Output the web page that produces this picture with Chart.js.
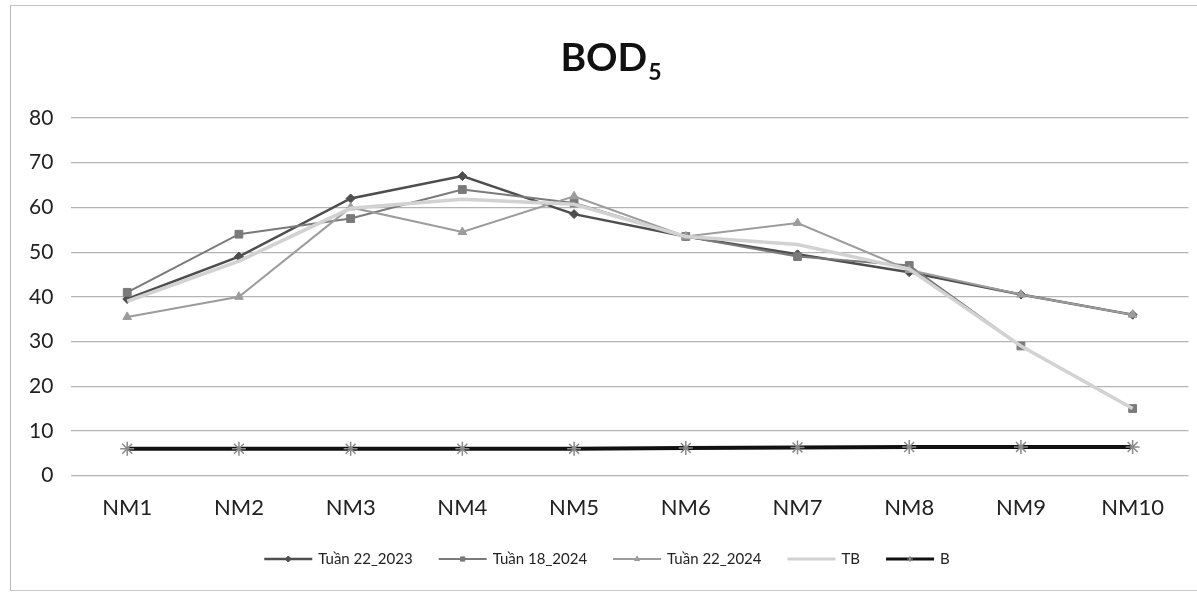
<!DOCTYPE html>
<html>
<head>
<meta charset="utf-8">
<title>BOD5</title>
<script src="https://cdn.jsdelivr.net/npm/chart.js@4.4.1/dist/chart.umd.min.js"></script>
<style>
  html, body { margin: 0; padding: 0; background: #ffffff; }
  #wrap { position: relative; width: 1197px; height: 595px; overflow: hidden; }
  #frame { position: absolute; left: 10px; top: 5px; width: 1200px; height: 584px;
           border-left: 1px solid #b8b8b8; border-top: 1px solid #c4c4c4; border-bottom: 1px solid #c8c8c8; }
  canvas { position: absolute; left: 0; top: 0; }
</style>
</head>
<body>
<div id="wrap">
  <div id="frame"></div>
  <canvas id="chart" width="1197" height="595"></canvas>
</div>
<script>
// Sampling points along the river
const stations = ['NM1', 'NM2', 'NM3', 'NM4', 'NM5', 'NM6', 'NM7', 'NM8', 'NM9', 'NM10'];

// BOD5 (mg/L) per sampling round
const week22_2023 = [39.5, 49, 62, 67, 58.5, 53.5, 49.5, 45.5, 40.5, 36];
const week18_2024 = [41, 54, 57.5, 64, 61, 53.5, 49, 47, 29, 15];
const week22_2024 = [35.5, 40, 60, 54.5, 62.5, 53.5, 56.5, 46, 40.5, 36];
const average     = [39, 48, 59.8, 61.8, 60.7, 53.5, 51.7, 46.2, 29, 15];
const limitB      = [6, 6, 6, 6, 6, 6.2, 6.3, 6.4, 6.4, 6.4];

// Y axis ticks
const yTicks = [0, 10, 20, 30, 40, 50, 60, 70, 80];

// Legend order
const legendOrder = ['Tuần 22_2023', 'Tuần 18_2024', 'Tuần 22_2024', 'TB', 'B'];

const FONT = 'Lato, "Open Sans", "Liberation Sans", sans-serif';

// Title "BOD" with a subscript 5
const titlePlugin = {
  id: 'bodTitle',
  afterDraw(chart) {
    const ctx = chart.ctx;
    ctx.save();
    ctx.fillStyle = '#111';
    ctx.textBaseline = 'alphabetic';
    ctx.font = 'bold 39px ' + FONT;
    const wMain = ctx.measureText('BOD').width;
    ctx.font = 'bold 23px ' + FONT;
    const wSub = ctx.measureText('5').width;
    const x0 = 611 - (wMain + wSub + 1) / 2;
    ctx.font = 'bold 39px ' + FONT;
    ctx.fillText('BOD', x0, 71);
    ctx.font = 'bold 23px ' + FONT;
    ctx.fillText('5', x0 + wMain + 1, 80);
    ctx.restore();
  }
};

// Legend row: line sample with the series marker, then the name
const legendPlugin = {
  id: 'lineLegend',
  afterDraw(chart) {
    const ctx = chart.ctx;
    const y = 559;
    const sample = 48, gapText = 6, gapItem = 26;
    ctx.save();
    ctx.font = '15px ' + FONT;
    const items = legendOrder.map(name => {
      const idx = chart.data.datasets.findIndex(d => d.label === name);
      return { ds: chart.data.datasets[idx], w: ctx.measureText(name).width, name };
    });
    const total = items.reduce((s, it) => s + sample + gapText + it.w, 0) + gapItem * (items.length - 1);
    let x = 607 - total / 2;
    items.forEach(it => {
      const ds = it.ds;
      ctx.strokeStyle = ds.borderColor;
      ctx.lineWidth = Math.min(ds.borderWidth, 3);
      ctx.beginPath();
      ctx.moveTo(x, y);
      ctx.lineTo(x + sample, y);
      ctx.stroke();
      if (ds.pointRadius > 0) {
        ctx.fillStyle = ds.pointBackgroundColor;
        ctx.strokeStyle = ds.pointBorderColor;
        ctx.lineWidth = 1;
        Chart.helpers.drawPoint(ctx, { pointStyle: ds.pointStyle, radius: 3, rotation: 0, borderWidth: 1 }, x + sample / 2, y);
      }
      x += sample + gapText;
      ctx.fillStyle = '#222';
      ctx.textBaseline = 'middle';
      ctx.fillText(it.name, x, y);
      x += it.w + gapItem;
    });
    ctx.restore();
  }
};

function series(label, data, color, width, style, radius) {
  return {
    label: label,
    data: data,
    borderColor: color,
    backgroundColor: color,
    borderWidth: width,
    pointStyle: style,
    pointRadius: radius,
    pointBorderColor: color,
    pointBackgroundColor: color,
    pointBorderWidth: 1,
    tension: 0,
    fill: false
  };
}

new Chart(document.getElementById('chart'), {
  type: 'line',
  data: {
    labels: stations,
    datasets: [
      series('TB', average, '#d2d2d2', 3.5, 'circle', 0),
      series('Tuần 22_2024', week22_2024, '#9c9c9c', 2, 'triangle', 5),
      series('Tuần 18_2024', week18_2024, '#7a7a7a', 2, 'rect', 5.5),
      series('Tuần 22_2023', week22_2023, '#4e4e4e', 2.5, 'rectRot', 4.5),
      Object.assign(series('B', limitB, '#111111', 4, 'star', 7), {
        pointBorderColor: '#8a8a8a', pointBorderWidth: 1.5
      })
    ]
  },
  options: {
    responsive: false,
    animation: false,
    layout: { padding: { top: 118, left: 11, right: 7, bottom: 55 } },
    plugins: {
      title: { display: false },
      tooltip: { enabled: false },
      legend: { display: false }
    },
    scales: {
      x: {
        offset: true,
        grid: { display: false, drawTicks: false },
        border: { display: false },
        ticks: {
          color: '#222',
          font: { family: FONT, size: 22 },
          padding: 19
        }
      },
      y: {
        min: 0,
        max: 80,
        afterBuildTicks(scale) { scale.ticks = yTicks.map(v => ({ value: v })); },
        grid: { color: '#b4b4b4', lineWidth: 1.2, drawTicks: false },
        border: { display: false },
        ticks: {
          color: '#222',
          font: { family: FONT, size: 21 },
          padding: 18
        }
      }
    }
  },
  plugins: [titlePlugin, legendPlugin]
});
</script>
</body>
</html>
